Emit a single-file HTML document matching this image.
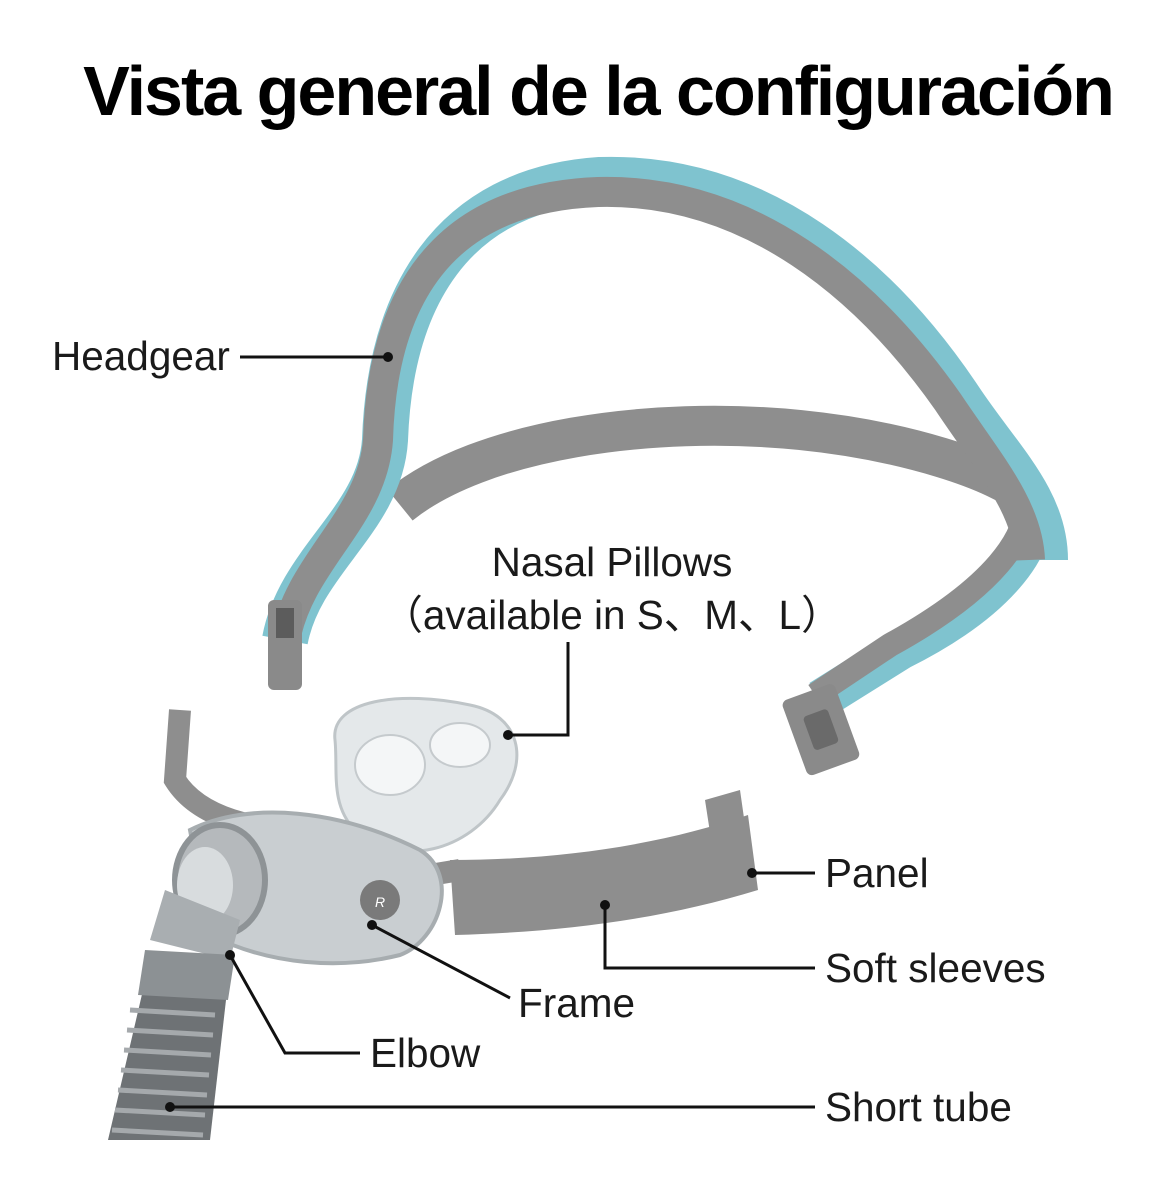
<!DOCTYPE html>
<html><head><meta charset="utf-8"><style>
html,body{margin:0;padding:0;background:#fff;}
svg{display:block;}
text{font-family:"Liberation Sans","DejaVu Sans",sans-serif;fill:#1a1a1a;}
</style></head><body>
<svg width="1166" height="1200" viewBox="0 0 1166 1200" xmlns="http://www.w3.org/2000/svg">
<rect width="1166" height="1200" fill="#fff"/>
<text x="598" y="115" text-anchor="middle" font-size="70" font-weight="bold" letter-spacing="-2" style="fill:#000">Vista general de la configuración</text>

<!-- Headgear back strap -->
<path d="M400 505 C 480 440, 650 415, 800 430 C 900 440, 1000 470, 1030 500" fill="none" stroke="#8e8e8e" stroke-width="40"/>
<path d="M1030 495 C 1045 540, 1000 600, 900 650 L 820 700" fill="none" stroke="#7fc3cf" stroke-width="40"/>
<path d="M1025 490 C 1035 535, 990 590, 890 645 L 815 695" fill="none" stroke="#8e8e8e" stroke-width="24"/>
<!-- top arc -->
<path d="M285 640 C 300 560, 380 520, 385 440 C 390 300, 450 190, 600 180 C 760 175, 880 280, 960 400 C 1000 460, 1045 500, 1045 560" fill="none" stroke="#7fc3cf" stroke-width="46"/>
<path d="M285 640 C 300 560, 372 520, 378 440 C 382 300, 440 198, 598 192 C 750 188, 868 288, 948 402 C 988 462, 1028 507, 1030 560" fill="none" stroke="#8e8e8e" stroke-width="30"/>
<!-- end tabs -->
<rect x="268" y="600" width="34" height="90" rx="6" fill="#8a8a8a"/>
<rect x="276" y="608" width="18" height="30" fill="#5c5c5c"/>
<rect x="793" y="690" width="56" height="80" rx="6" fill="#8a8a8a" transform="rotate(-20 820 730)"/>
<rect x="808" y="712" width="26" height="36" rx="4" fill="#6a6a6a" transform="rotate(-20 820 730)"/>

<!-- nasal pillows -->
<path d="M335 740 C 330 700, 400 690, 470 705 C 520 715, 530 760, 500 800 C 470 850, 400 870, 355 830 C 330 805, 338 770, 335 740 Z" fill="#e4e8ea" stroke="#bfc5c8" stroke-width="3"/>
<ellipse cx="390" cy="765" rx="35" ry="30" fill="#f4f6f7" stroke="#c5cacd" stroke-width="2"/>
<ellipse cx="460" cy="745" rx="30" ry="22" fill="#f4f6f7" stroke="#c5cacd" stroke-width="2"/>

<!-- left strap -->
<path d="M180 710 L 175 780 C 200 820, 260 830, 300 830" fill="none" stroke="#8e8e8e" stroke-width="22"/>
<!-- right strap / soft sleeve -->
<path d="M400 880 L 460 870" stroke="#8e8e8e" stroke-width="22"/>
<path d="M450 860 C 560 860, 660 845, 748 815 L 758 890 C 660 920, 560 932, 455 935 Z" fill="#8e8e8e"/>
<path d="M705 800 L 740 790 L 750 860 L 715 865 Z" fill="#8e8e8e"/>
<!-- frame -->
<path d="M190 830 C 250 800, 340 810, 420 850 C 460 875, 440 940, 400 955 C 340 970, 270 965, 210 935 Z" fill="#c9ced1" stroke="#a7adb0" stroke-width="4"/>
<circle cx="380" cy="900" r="20" fill="#7a7a7a"/>
<text x="375" y="907" font-size="14" style="fill:#fff" font-style="italic">R</text>
<!-- elbow -->
<ellipse cx="220" cy="880" rx="45" ry="55" fill="#b5b9bc" stroke="#8e9396" stroke-width="6"/>
<ellipse cx="205" cy="885" rx="28" ry="38" fill="#d8dcde"/>
<path d="M165 890 L 150 940 L 230 960 L 240 920 Z" fill="#a9aeb1"/>
<!-- tube -->
<path d="M150 960 L 230 965 L 210 1140 L 108 1140 Z" fill="#6e7275"/>
<g stroke="#a5a9ac" stroke-width="5">
<line x1="130" y1="1010" x2="215" y2="1015"/><line x1="127" y1="1030" x2="213" y2="1035"/>
<line x1="124" y1="1050" x2="211" y2="1055"/><line x1="121" y1="1070" x2="209" y2="1075"/>
<line x1="118" y1="1090" x2="207" y2="1095"/><line x1="115" y1="1110" x2="205" y2="1115"/>
<line x1="112" y1="1130" x2="203" y2="1135"/>
</g>
<path d="M145 950 L 235 955 L 228 1000 L 138 995 Z" fill="#8c9194"/>

<!-- callouts -->
<g stroke="#111" stroke-width="3" fill="none">
<line x1="240" y1="357" x2="388" y2="357"/>
<polyline points="568,642 568,735 508,735"/>
<line x1="752" y1="873" x2="815" y2="873"/>
<polyline points="605,905 605,968 815,968"/>
<line x1="372" y1="925" x2="510" y2="998"/>
<polyline points="230,955 285,1053 360,1053"/>
<line x1="170" y1="1107" x2="815" y2="1107"/>
</g>
<g fill="#111"><circle cx="388" cy="357" r="5"/><circle cx="508" cy="735" r="5"/><circle cx="752" cy="873" r="5"/><circle cx="605" cy="905" r="5"/><circle cx="372" cy="925" r="5"/><circle cx="230" cy="955" r="5"/><circle cx="170" cy="1107" r="5"/></g>

<g font-size="40.5">
<text x="52" y="370">Headgear</text>
<text x="612" y="576" text-anchor="middle">Nasal Pillows</text>
<text x="612" y="629" text-anchor="middle">（available in S、M、L）</text>
<text x="825" y="887">Panel</text>
<text x="825" y="982">Soft sleeves</text>
<text x="518" y="1017">Frame</text>
<text x="370" y="1067">Elbow</text>
<text x="825" y="1121">Short tube</text>
</g>
</svg>
</body></html>
